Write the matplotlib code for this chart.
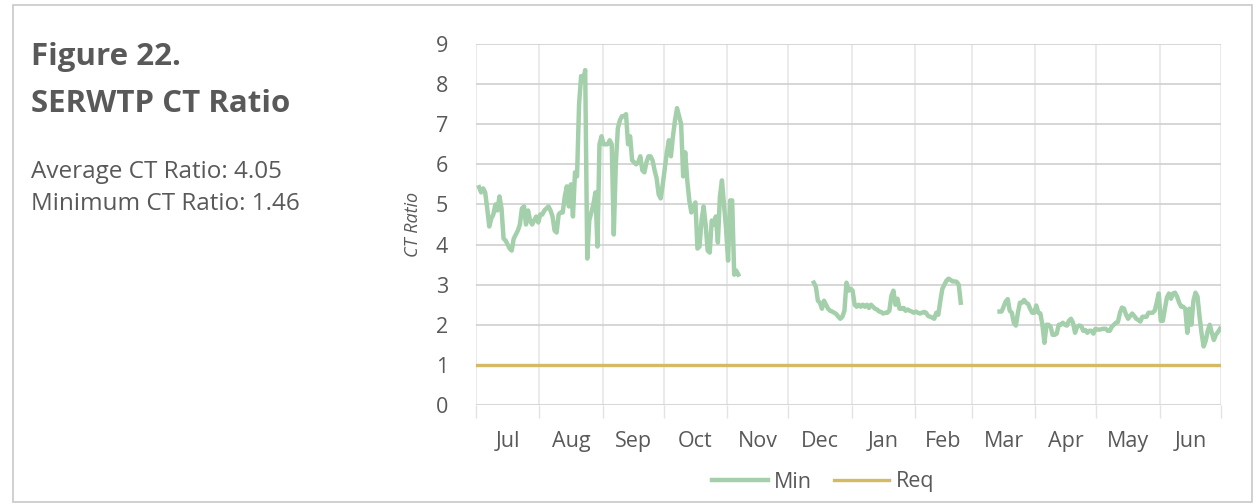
import numpy as np
import pandas as pd
import matplotlib
matplotlib.use("Agg")
import matplotlib.pyplot as plt
from matplotlib.patches import Rectangle

plt.rcParams['font.family'] = ['Open Sans', 'DejaVu Sans']

# daily minimum CT ratio, three runs of data with gaps between them
seg1_start = "2021-07-02"
seg1 = [5.43, 5.3, 5.4, 5.3, 4.9, 4.45, 4.65, 4.75, 5.0, 4.85,
        5.2, 4.9, 4.15, 4.1, 4.0, 3.9, 3.85, 4.15, 4.25, 4.35,
        4.5, 4.9, 4.95, 4.5, 4.85, 4.6, 4.5, 4.6, 4.7, 4.55,
        4.75, 4.75, 4.85, 4.9, 4.95, 4.85, 4.7, 4.35, 4.3, 4.75,
        4.8, 4.8, 5.2, 5.45, 4.95, 5.5, 4.7, 5.8, 5.7, 7.5,
        8.2, 8.1, 8.35, 3.65, 4.6, 4.8, 5.0, 5.3, 3.95, 6.5,
        6.7, 6.5, 6.5, 6.5, 6.6, 6.5, 4.25, 6.0, 6.9, 7.1,
        7.2, 7.2, 7.25, 6.5, 6.7, 6.1, 6.05, 6.0, 6.05, 6.2,
        5.85, 5.8, 6.05, 6.2, 6.2, 6.1, 5.85, 5.65, 5.25, 5.15,
        5.5, 5.9, 6.3, 6.6, 6.2, 6.7, 7.1, 7.4, 7.2, 7.0,
        5.7, 6.3, 5.6, 5.1, 4.8, 4.95, 5.05, 3.9, 3.95, 4.6,
        4.95, 4.5, 3.85, 3.8, 4.6, 4.5, 4.7, 4.05, 5.2, 5.6,
        5.0, 4.4, 3.6, 5.1, 5.1, 3.25, 3.35, 3.25]

seg2_start = "2021-12-13"
seg2 = [3.05, 2.95, 2.6, 2.55, 2.4, 2.6, 2.5, 2.4, 2.35, 2.33,
        2.3, 2.27, 2.2, 2.15, 2.2, 2.35, 3.05, 2.85, 2.9, 2.85,
        2.5, 2.45, 2.5, 2.45, 2.5, 2.45, 2.5, 2.42, 2.5, 2.45,
        2.4, 2.38, 2.33, 2.32, 2.28, 2.3, 2.3, 2.35, 2.72, 2.85,
        2.5, 2.65, 2.4, 2.4, 2.42, 2.35, 2.38, 2.35, 2.33, 2.3,
        2.33, 2.3, 2.28, 2.3, 2.32, 2.3, 2.22, 2.2, 2.18, 2.15,
        2.3, 2.25, 2.6, 2.9, 3.0, 3.1, 3.15, 3.12, 3.08, 3.08,
        3.07, 3.0, 2.55]

seg3_start = "2022-03-14"
seg3 = [2.33, 2.33, 2.45, 2.58, 2.64, 2.35, 2.3, 2.05, 1.98, 2.3,
        2.55, 2.55, 2.62, 2.55, 2.52, 2.4, 2.3, 2.3, 2.48, 2.3,
        2.28, 2.0, 1.55, 2.0, 2.0, 1.95, 1.75, 1.75, 1.78, 2.0,
        2.0, 2.05, 2.0, 1.98, 2.1, 2.15, 2.05, 1.8, 1.95, 1.98,
        1.97, 1.85, 1.87, 1.8, 1.85, 1.85, 1.78, 1.9, 1.88, 1.88,
        1.89, 1.9, 1.9, 1.85, 1.85, 1.95, 2.0, 2.05, 2.07, 2.3,
        2.43, 2.4, 2.25, 2.15, 2.22, 2.28, 2.22, 2.15, 2.12, 2.08,
        2.2, 2.2, 2.2, 2.3, 2.3, 2.3, 2.35, 2.55, 2.78, 2.1,
        2.1, 2.4, 2.68, 2.78, 2.65, 2.78, 2.8, 2.7, 2.55, 2.45,
        2.45, 2.4, 1.8, 2.4, 2.0, 2.6, 2.8, 2.7, 2.2, 1.78,
        1.46, 1.6, 1.85, 2.0, 1.8, 1.62, 1.75, 1.82, 1.9]

req_value = 1.0
months = ["Jul", "Aug", "Sep", "Oct", "Nov", "Dec",
          "Jan", "Feb", "Mar", "Apr", "May", "Jun"]

days = pd.date_range("2021-07-01", "2022-06-30", freq="D")
ct_min = pd.Series(np.nan, index=days)
for start, vals in [(seg1_start, seg1), (seg2_start, seg2), (seg3_start, seg3)]:
    idx = pd.date_range(start, periods=len(vals), freq="D")
    ct_min.loc[idx] = vals
req = pd.Series(req_value, index=days)

x = days + pd.Timedelta(hours=12)

W, H = 1254, 504
fig = plt.figure(figsize=(W / 100, H / 100), dpi=100)
ax = fig.add_axes([476 / W, 1 - 405 / H, (1221 - 476) / W, (405 - 44) / H])

green = "#a3cfaa"
gold = "#d4bb63"
grey_txt = "#595959"

ax.plot(x, ct_min.values, color=green, lw=3.2, label="Min", solid_joinstyle="round")
ax.plot(x, req.values, color=gold, lw=2.4, label="Req")

ax.set_ylim(0, 9)
ax.set_yticks(range(0, 10))
ax.set_xlim(pd.Timestamp("2021-07-01"), pd.Timestamp("2022-07-01"))

month_starts = pd.date_range("2021-07-01", "2022-07-01", freq="MS")
mid = [s + (e - s) / 2 for s, e in zip(month_starts[:-1], month_starts[1:])]
ax.set_xticks(mid)
ax.set_xticklabels(months)
ax.set_xticks(month_starts, minor=True)
ax.tick_params(axis="x", which="major", length=0, pad=19, labelsize=15.5, labelcolor=grey_txt)
ax.tick_params(axis="x", which="minor", length=9, color="#e3e3e3", width=1)
ax.tick_params(axis="y", length=0, pad=20, labelsize=15.5, labelcolor=grey_txt)

ax.grid(axis="y", color="#d0d0d0", lw=1.2)
ax.grid(axis="x", which="minor", color="#e6e6e6", lw=1.2)
ax.set_axisbelow(True)
for s in ax.spines.values():
    s.set_visible(False)

ax.set_ylabel("CT Ratio", fontsize=13, style="italic", color=grey_txt, labelpad=10)

fig.legend(loc="center", bbox_to_anchor=(823 / W, 1 - 482 / H), ncol=2, frameon=False,
           fontsize=15.5, handlelength=2.6, handletextpad=0.3, columnspacing=1.0,
           labelcolor=grey_txt)

fig.text(31 / W, 1 - 65 / H, "Figure 22.", fontsize=22.5, fontweight="bold", color=grey_txt)
fig.text(31 / W, 1 - 112 / H, "SERWTP CT Ratio", fontsize=22.5, fontweight="bold", color=grey_txt)
fig.text(31 / W, 1 - 178 / H, "Average CT Ratio: 4.05", fontsize=17.5, color=grey_txt)
fig.text(31 / W, 1 - 210 / H, "Minimum CT Ratio: 1.46", fontsize=17.5, color=grey_txt)

fig.patches.append(Rectangle((13 / W, 2 / H), 1 - 15 / W, 1 - 7 / H, transform=fig.transFigure,
                             fill=False, edgecolor="#c8c8c8", lw=1.2))

fig.savefig("out.png", dpi=100)
